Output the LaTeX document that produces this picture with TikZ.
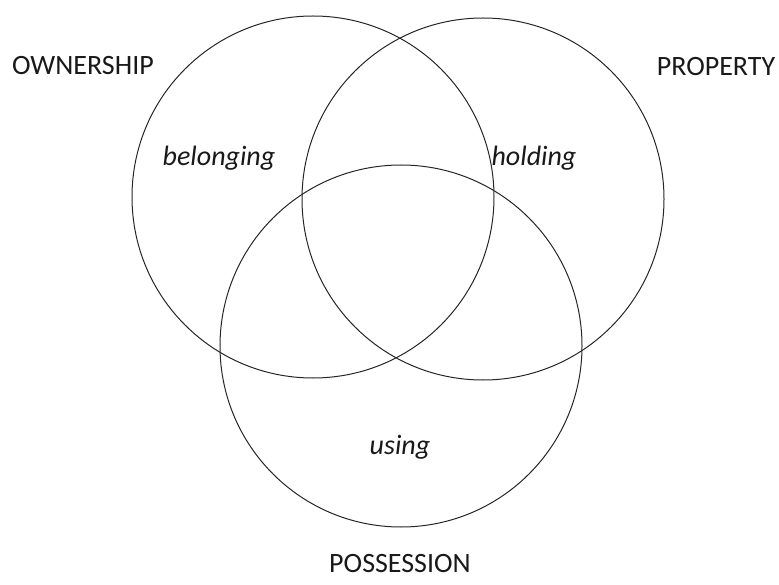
\documentclass[tikz,border=0pt]{standalone}
\usepackage{fontspec}
\setmainfont{Carlito}
\begin{document}
\begin{tikzpicture}[x=1pt,y=-1pt,
  ring/.style={draw=black!85,line width=1pt,circle,minimum size=362pt,inner sep=0pt},
  titlelabel/.style={font=\fontsize{28}{31}\selectfont,text=black!90,inner sep=0pt},
  word/.style={font=\fontsize{28}{31}\selectfont\itshape,text=black!90,inner sep=0pt}]
\useasboundingbox (0,0) rectangle (779,585);
\node[ring] (own) at (313,197) {};
\node[ring] (prop) at (483,199) {};
\node[ring] (poss) at (401,346) {};
\node[titlelabel] (townership) at (83,66) {OWNERSHIP};
\node[titlelabel] (tproperty) at (716,67) {PROPERTY};
\node[titlelabel] (tpossession) at (400,564) {POSSESSION};
\node[word] (tbelonging) at (219,158) {belonging};
\node[word] (tholding) at (534,158) {holding};
\node[word] (tusing) at (400,447) {using};
\end{tikzpicture}
\end{document}
